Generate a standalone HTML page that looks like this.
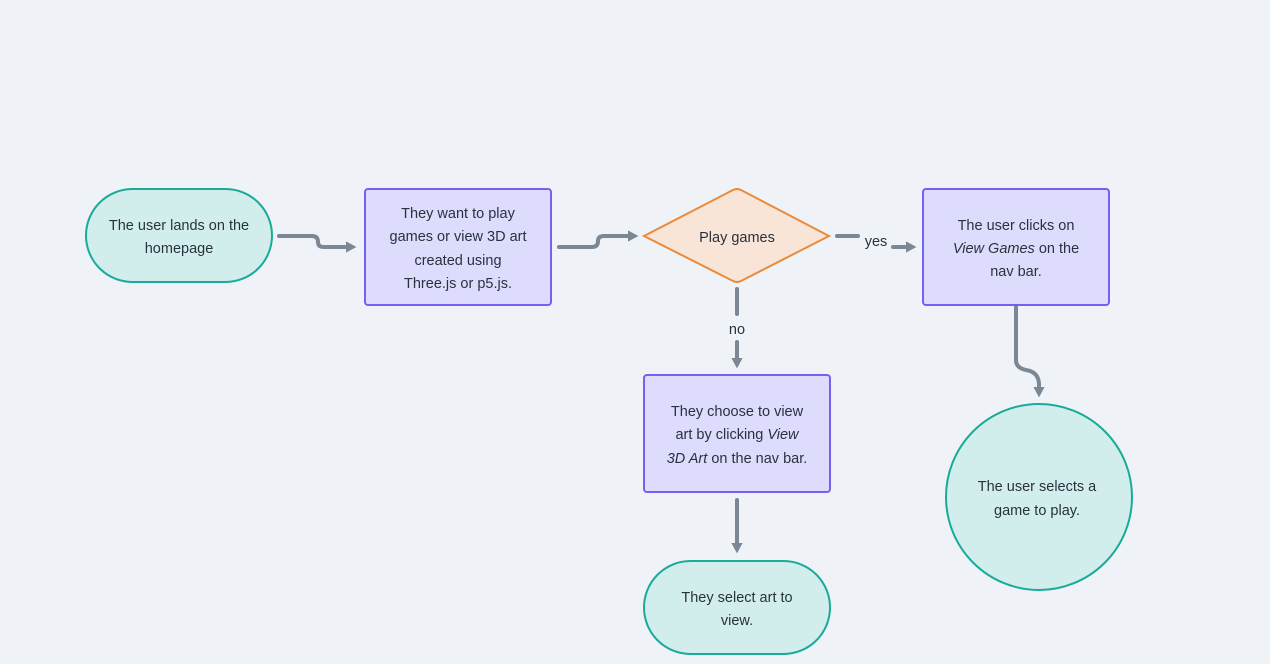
<!DOCTYPE html>
<html><head><style>
html,body{margin:0;padding:0;background:#eff3f7;}
svg{display:block;}
text{font-family:"Liberation Sans",sans-serif;font-size:14.5px;fill:#28323e;text-anchor:middle;}
</style></head><body>
<svg width="1270" height="664" viewBox="0 0 1270 664" xmlns="http://www.w3.org/2000/svg">
<defs>
<marker id="a" markerWidth="4" markerHeight="4" refX="1.5" refY="2" orient="auto" markerUnits="strokeWidth">
<path d="M0,0.6 L2.6,2 L0,3.4 z" fill="#7b8794"/>
</marker>
</defs>
<g fill="none" stroke="#7b8794" stroke-width="4" stroke-linecap="round">
<path d="M279,236 H312 Q318,236 318,242 Q318,247 324,247 H352" marker-end="url(#a)"/>
<path d="M559,247 H592 Q598,247 598,241 Q598,236 604,236 H634" marker-end="url(#a)"/>
<path d="M837,236 H858"/>
<path d="M893,247 H912" marker-end="url(#a)"/>
<path d="M737,289 V314"/>
<path d="M737,342 V364" marker-end="url(#a)"/>
<path d="M737,500 V549" marker-end="url(#a)"/>
<path d="M1016,307 V360 Q1016,368 1026,370 Q1039,372 1039,385 V393" marker-end="url(#a)"/>
</g>
<rect x="86" y="189" width="186" height="93" rx="46.5" fill="#d2eeec" stroke="#1aaa98" stroke-width="2"/>
<text x="179" y="230">The user lands on the</text>
<text x="179" y="253">homepage</text>
<rect x="365" y="189" width="186" height="116" rx="3" fill="#dedcfd" stroke="#7560f2" stroke-width="2"/>
<text x="458" y="218">They want to play</text>
<text x="458" y="241">games or view 3D art</text>
<text x="458" y="265">created using</text>
<text x="458" y="288">Three.js or p5.js.</text>
<path d="M644,236 L733,190 Q737,188 741,190 L829,236 L741,281 Q737,283 733,281 Z" fill="#f9e4d8" stroke="#ea8a3a" stroke-width="2"/>
<text x="737" y="242">Play games</text>
<text x="876" y="246">yes</text>
<text x="737" y="334">no</text>
<rect x="923" y="189" width="186" height="116" rx="3" fill="#dedcfd" stroke="#7560f2" stroke-width="2"/>
<text x="1016" y="230">The user clicks on</text>
<text x="1016" y="253"><tspan font-style="italic">View Games</tspan> on the</text>
<text x="1016" y="276">nav bar.</text>
<rect x="644" y="375" width="186" height="117" rx="3" fill="#dedcfd" stroke="#7560f2" stroke-width="2"/>
<text x="737" y="416">They choose to view</text>
<text x="737" y="439">art by clicking <tspan font-style="italic">View</tspan></text>
<text x="737" y="463"><tspan font-style="italic">3D Art</tspan> on the nav bar.</text>
<rect x="644" y="561" width="186" height="93" rx="46.5" fill="#d2eeec" stroke="#1aaa98" stroke-width="2"/>
<text x="737" y="602">They select art to</text>
<text x="737" y="625">view.</text>
<circle cx="1039" cy="497" r="93" fill="#d2eeec" stroke="#1aaa98" stroke-width="2"/>
<text x="1037" y="491">The user selects a</text>
<text x="1037" y="515">game to play.</text>
</svg>
</body></html>
